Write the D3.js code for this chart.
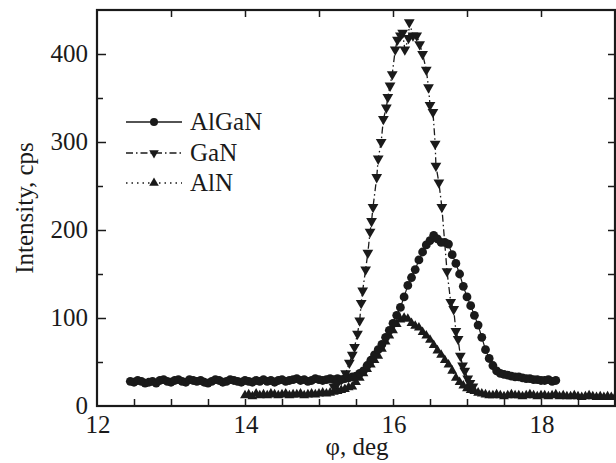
<!DOCTYPE html>
<html>
<head>
<meta charset="utf-8">
<script src="https://cdn.jsdelivr.net/npm/d3@7"></script>
<style>
  body { margin: 0; background: #fff; }
  svg text { font-family: "Liberation Serif", "Times New Roman", serif; fill: #1a1a1a; }
</style>
</head>
<body>
<div id="chart"></div>
<script>
// rocking curves: intensity vs phi for three layers

const algan = [
  [12.45, 28], [12.50, 27], [12.55, 29], [12.60, 28], [12.65, 26], [12.70, 27], [12.75, 28], [12.80, 26],
  [12.85, 29], [12.90, 30], [12.95, 28], [13.00, 27], [13.05, 29], [13.10, 30], [13.15, 28], [13.20, 27],
  [13.25, 30], [13.30, 29], [13.35, 28], [13.40, 29], [13.45, 27], [13.50, 26], [13.55, 28], [13.60, 30],
  [13.65, 29], [13.70, 27], [13.75, 28], [13.80, 30], [13.85, 29], [13.90, 28], [13.95, 27], [14.00, 29],
  [14.05, 28], [14.10, 27], [14.15, 29], [14.20, 28], [14.25, 30], [14.30, 28], [14.35, 29], [14.40, 27],
  [14.45, 29], [14.50, 30], [14.55, 28], [14.60, 29], [14.65, 30], [14.70, 31], [14.75, 29], [14.80, 30],
  [14.85, 28], [14.90, 29], [14.95, 31], [15.00, 30], [15.05, 29], [15.10, 30], [15.15, 31], [15.20, 30],
  [15.25, 31], [15.30, 30], [15.35, 31], [15.40, 32], [15.45, 33], [15.50, 34], [15.55, 37], [15.60, 40],
  [15.65, 46], [15.70, 52], [15.75, 58], [15.80, 64], [15.85, 70], [15.90, 78], [15.95, 86], [16.00, 94],
  [16.05, 103], [16.10, 112], [16.15, 124], [16.20, 137], [16.25, 146], [16.30, 155], [16.35, 166], [16.40, 175],
  [16.45, 183], [16.50, 188], [16.55, 194], [16.60, 190], [16.65, 186], [16.70, 186], [16.75, 184], [16.80, 172],
  [16.85, 162], [16.90, 150], [16.95, 136], [17.00, 124], [17.05, 114], [17.10, 103], [17.15, 92], [17.20, 78],
  [17.25, 64], [17.30, 54], [17.35, 46], [17.40, 40], [17.45, 37], [17.50, 36], [17.55, 35], [17.60, 34],
  [17.65, 33], [17.70, 33], [17.75, 32], [17.80, 31], [17.85, 31], [17.90, 30], [17.95, 30], [18.00, 29],
  [18.05, 29], [18.10, 30], [18.15, 28], [18.20, 29]
];

const gan = [
  [15.20, 22], [15.25, 26], [15.30, 30], [15.36, 37], [15.41, 49], [15.45, 58], [15.48, 67], [15.52, 82],
  [15.55, 97], [15.57, 117], [15.59, 131], [15.63, 155], [15.66, 174], [15.69, 198], [15.71, 210], [15.73, 226],
  [15.78, 260], [15.80, 281], [15.84, 300], [15.87, 326], [15.91, 339], [15.93, 351], [15.96, 364], [15.99, 377],
  [16.03, 405], [16.06, 416], [16.10, 421], [16.13, 424], [16.16, 405], [16.21, 418], [16.22, 436], [16.27, 421],
  [16.32, 421], [16.36, 411], [16.40, 400], [16.45, 382], [16.48, 362], [16.50, 342], [16.54, 334], [16.57, 298],
  [16.58, 273], [16.62, 254], [16.66, 226], [16.73, 153], [16.78, 118], [16.82, 110], [16.85, 85], [16.88, 76],
  [16.91, 57], [16.94, 46], [16.97, 40], [17.01, 31], [17.04, 26], [17.08, 22]
];

const aln = [
  [14.00, 12], [14.05, 13], [14.10, 11], [14.15, 14], [14.20, 12], [14.25, 13], [14.30, 12], [14.35, 14],
  [14.40, 13], [14.45, 12], [14.50, 13], [14.55, 14], [14.60, 12], [14.65, 13], [14.70, 13], [14.75, 14],
  [14.80, 12], [14.85, 13], [14.90, 14], [14.95, 13], [15.00, 14], [15.05, 15], [15.10, 14], [15.15, 15],
  [15.20, 16], [15.25, 17], [15.30, 18], [15.35, 19], [15.40, 21], [15.45, 22], [15.50, 27], [15.55, 32],
  [15.60, 37], [15.65, 42], [15.70, 47], [15.75, 52], [15.80, 57], [15.85, 65], [15.90, 73], [15.95, 80],
  [16.00, 86], [16.05, 93], [16.10, 98], [16.15, 100], [16.20, 99], [16.25, 94], [16.30, 91], [16.35, 89],
  [16.40, 84], [16.45, 80], [16.50, 75], [16.55, 69], [16.60, 63], [16.65, 58], [16.70, 52], [16.75, 47],
  [16.80, 40], [16.85, 32], [16.90, 27], [16.95, 23], [17.00, 20], [17.05, 18], [17.10, 17], [17.15, 15],
  [17.20, 14], [17.25, 13], [17.30, 12], [17.35, 12], [17.40, 13], [17.45, 12], [17.50, 11], [17.55, 12],
  [17.60, 13], [17.65, 12], [17.70, 12], [17.75, 11], [17.80, 12], [17.85, 13], [17.90, 12], [17.95, 11],
  [18.00, 12], [18.05, 12], [18.10, 11], [18.15, 12], [18.20, 13], [18.25, 11], [18.30, 12], [18.35, 11],
  [18.40, 11], [18.45, 12], [18.50, 11], [18.55, 10], [18.60, 11], [18.65, 12], [18.70, 11], [18.75, 10],
  [18.80, 11], [18.85, 10], [18.90, 11], [18.95, 10], [19.00, 10]
];

const xTicks = [12, 14, 16, 18];
const yTicks = [0, 100, 200, 300, 400];
const legendNames = ["AlGaN", "GaN", "AlN"];

const W = 616, H = 463;
const mLeft = 97, mRight = 615, mTop = 10, mBottom = 406;

const svg = d3.select("#chart").append("svg")
  .attr("width", W)
  .attr("height", H);

const x = d3.scaleLinear().domain([12, 19]).range([mLeft, mRight]);
const y = d3.scaleLinear().domain([0, 450]).range([mBottom, mTop]);

const ink = "#1a1a1a";

// ticks all pointing inwards
const bottomAxis = svg.append('g')
  .attr('transform', `translate(0, ${mBottom})`)
  .call(d3.axisTop(x).tickValues(d3.range(12.5, 19, 0.5)).tickSize(7).tickFormat(''));
const topAxis = svg.append('g')
  .attr('transform', `translate(0, ${mTop})`)
  .call(d3.axisBottom(x).tickValues(d3.range(13, 19, 1)).tickSize(7).tickFormat(''));
const leftMajor = svg.append('g')
  .attr('transform', `translate(${mLeft}, 0)`)
  .call(d3.axisRight(y).tickValues([100, 200, 300, 400]).tickSize(9).tickFormat(''));
const leftMinor = svg.append('g')
  .attr('transform', `translate(${mLeft}, 0)`)
  .call(d3.axisRight(y).tickValues([50, 150, 250, 350]).tickSize(6).tickFormat(''));
const rightAxis = svg.append('g')
  .attr('transform', `translate(${mRight}, 0)`)
  .call(d3.axisLeft(y).tickValues(d3.range(50, 450, 50)).tickSize(7).tickFormat(''));

[bottomAxis, topAxis, leftMajor, leftMinor, rightAxis].forEach(g => {
  g.select('.domain').remove();
  g.selectAll('line').attr('stroke', ink).attr('stroke-width', 1.5);
});

svg.append('rect')
  .attr('x', mLeft).attr('y', mTop)
  .attr('width', mRight - mLeft).attr('height', mBottom - mTop)
  .attr('fill', 'none').attr('stroke', ink).attr('stroke-width', 2.2);

// tick labels
svg.selectAll('.xlab').data(xTicks).enter().append('text')
  .attr('x', d => x(d) + 1)
  .attr('y', mBottom + 27)
  .attr('text-anchor', 'middle')
  .attr('font-size', 25)
  .text(d => d);

svg.selectAll('.ylab').data(yTicks).enter().append('text')
  .attr('x', mLeft - 9)
  .attr('y', d => y(d) + 8)
  .attr('text-anchor', 'end')
  .attr('font-size', 25)
  .text(d => d);

svg.append('text')
  .attr('x', 357).attr('y', 455)
  .attr('text-anchor', 'middle')
  .attr('font-size', 25)
  .text('φ, deg');

svg.append('text')
  .attr('transform', `translate(33, ${(mTop + mBottom) / 2}) rotate(-90)`)
  .attr('text-anchor', 'middle')
  .attr('font-size', 25)
  .text('Intensity, cps');

// series
const line = d3.line().x(d => x(d[0])).y(d => y(d[1]));
const tri = d3.symbol().type(d3.symbolTriangle);

const plot = svg.append('g');

plot.append('path').datum(algan)
  .attr('d', line).attr('fill', 'none').attr('stroke', ink).attr('stroke-width', 1.2);
plot.append('path').datum(aln)
  .attr('d', line).attr('fill', 'none').attr('stroke', ink).attr('stroke-width', 1.2)
  .attr('stroke-dasharray', '1.5,3');
plot.append('path').datum(gan)
  .attr('d', line).attr('fill', 'none').attr('stroke', ink).attr('stroke-width', 1.3)
  .attr('stroke-dasharray', '7,3,1.5,3');

plot.selectAll('.alnpt').data(aln).enter().append('path')
  .attr('d', tri.size(42)())
  .attr('transform', d => `translate(${x(d[0])}, ${y(d[1])})`)
  .attr('fill', ink);

plot.selectAll('.alganpt').data(algan).enter().append('circle')
  .attr('cx', d => x(d[0]))
  .attr('cy', d => y(d[1]))
  .attr('r', 4.4)
  .attr('fill', ink);

plot.selectAll('.ganpt').data(gan).enter().append('path')
  .attr('d', tri.size(50)())
  .attr('transform', d => `translate(${x(d[0])}, ${y(d[1])}) rotate(180)`)
  .attr('fill', ink);

// legend
const legY = [122, 153, 183];
const leg = svg.append('g');
const dashes = [null, '7,3,1.5,3', '1.5,4'];
legendNames.forEach((name, i) => {
  leg.append('line')
    .attr('x1', 126).attr('x2', 182)
    .attr('y1', legY[i]).attr('y2', legY[i])
    .attr('stroke', ink).attr('stroke-width', 1.3)
    .attr('stroke-dasharray', dashes[i]);
  if (i === 0) {
    leg.append('circle').attr('cx', 154).attr('cy', legY[i]).attr('r', 4).attr('fill', ink);
  } else {
    leg.append('path')
      .attr('d', tri.size(40)())
      .attr('transform', `translate(154, ${legY[i]})` + (i === 1 ? ' rotate(180)' : ''))
      .attr('fill', ink);
  }
  leg.append('text')
    .attr('x', 190).attr('y', legY[i] + 8)
    .attr('font-size', 25)
    .text(name);
});
</script>
</body>
</html>
